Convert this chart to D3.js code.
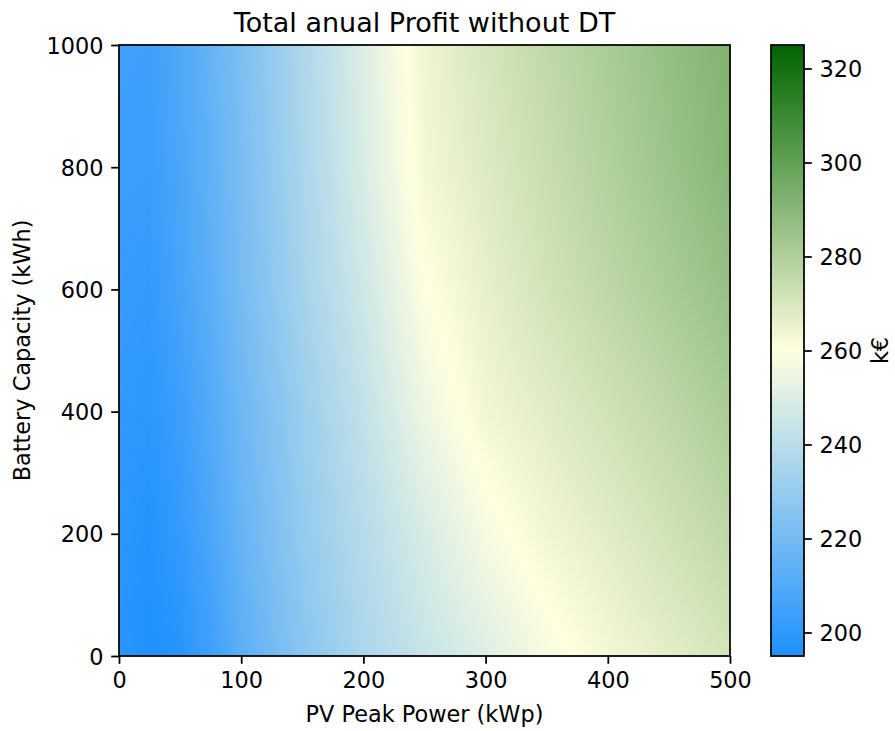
<!DOCTYPE html>
<html>
<head>
<meta charset="utf-8">
<script src="https://cdn.jsdelivr.net/npm/d3@7"></script>
<style>
  html, body { margin: 0; padding: 0; background: #fff; }
  svg text { font-family: "DejaVu Sans", sans-serif; fill: #000; }
</style>
</head>
<body>
<svg id="chart" width="895" height="731"></svg>
<script>
// PV peak power grid (kWp) — columns of the profit table
const pvPeak = [0, 25, 50, 75, 100, 150, 200, 250, 300, 350, 400, 450, 500];
// Battery capacity grid (kWh) — rows of the profit table
const battery = [0, 200, 400, 600, 800, 1000];
// Total annual profit (k€), one row per battery capacity
const profit0    = [198.0, 195.5, 197.5, 204.0, 213.0, 226.0, 236.0, 244.0, 250.5, 257.5, 263.0, 267.0, 271.0];
const profit200  = [199.0, 197.0, 201.0, 208.0, 216.0, 229.0, 239.0, 248.5, 257.5, 263.5, 267.5, 272.0, 276.5];
const profit400  = [200.5, 199.0, 203.5, 210.5, 218.0, 231.0, 242.5, 255.0, 263.5, 267.5, 272.0, 276.5, 281.5];
const profit600  = [202.0, 201.0, 206.5, 213.0, 220.5, 234.0, 246.0, 259.5, 266.0, 271.5, 276.5, 281.5, 286.5];
const profit800  = [203.5, 203.0, 208.0, 214.5, 221.5, 235.5, 249.0, 263.0, 268.5, 274.0, 279.5, 285.0, 290.5];
const profit1000 = [204.5, 204.0, 209.5, 215.5, 222.0, 236.5, 250.0, 264.0, 270.5, 276.0, 281.5, 287.0, 292.0];
const profitRows = [profit0, profit200, profit400, profit600, profit800, profit1000];

// Axis ticks
const xTicks = [0, 100, 200, 300, 400, 500];
const yTicks = [0, 200, 400, 600, 800, 1000];
const cTicks = [200, 220, 240, 260, 280, 300, 320];
const colorDomain = [195, 260, 325];
const colorRange = ["#1e90ff", "#ffffe0", "#006400"];

const svg = d3.select("#chart");
const plot = { left: 119, top: 45, right: 730, bottom: 656 };
const cbar = { left: 771, right: 804 };
const tickLen = 7.8, tickPad = 7.8, lw = 1.75, fs = 22.4;

const x = d3.scaleLinear().domain([0, 500]).range([plot.left, plot.right]);
const y = d3.scaleLinear().domain([0, 1000]).range([plot.bottom, plot.top]);
const color = d3.scaleLinear().domain(colorDomain).range(colorRange)
  .interpolate(d3.interpolateRgb).clamp(true);

// Bilinear lookup in the profit table
function profitAt(pv, bat) {
  let i = Math.min(Math.max(d3.bisectRight(pvPeak, pv) - 1, 0), pvPeak.length - 2);
  let j = Math.min(Math.max(d3.bisectRight(battery, bat) - 1, 0), battery.length - 2);
  const tx = Math.min(Math.max((pv - pvPeak[i]) / (pvPeak[i + 1] - pvPeak[i]), 0), 1);
  const ty = Math.min(Math.max((bat - battery[j]) / (battery[j + 1] - battery[j]), 0), 1);
  const a = profitRows[j][i], b = profitRows[j][i + 1];
  const c = profitRows[j + 1][i], d = profitRows[j + 1][i + 1];
  return (a * (1 - tx) + b * tx) * (1 - ty) + (c * (1 - tx) + d * tx) * ty;
}

// Heatmap raster
const pw = plot.right - plot.left, ph = plot.bottom - plot.top;
const canvas = document.createElement("canvas");
canvas.width = pw; canvas.height = ph;
const ctx = canvas.getContext("2d");
const img = ctx.createImageData(pw, ph);
const lut = d3.range(1301).map(k => d3.rgb(color(195 + k * 0.1)));
for (let r = 0; r < ph; r++) {
  const bat = y.invert(plot.top + r + 0.5);
  for (let c = 0; c < pw; c++) {
    const pv = x.invert(plot.left + c + 0.5);
    const v = profitAt(pv, bat);
    const k = Math.max(0, Math.min(1300, Math.round((v - 195) * 10)));
    const col = lut[k];
    const o = (r * pw + c) * 4;
    img.data[o] = col.r; img.data[o + 1] = col.g; img.data[o + 2] = col.b; img.data[o + 3] = 255;
  }
}
ctx.putImageData(img, 0, 0);
svg.append("image")
  .attr("x", plot.left).attr("y", plot.top)
  .attr("width", pw).attr("height", ph)
  .attr("preserveAspectRatio", "none")
  .attr("href", canvas.toDataURL());

// Axes
const fmt = d3.format("d");
const xAxis = svg.append("g").attr("transform", `translate(0,${plot.bottom})`)
  .call(d3.axisBottom(x).tickValues(xTicks).tickFormat(fmt).tickSize(tickLen).tickPadding(tickPad));
const yAxis = svg.append("g").attr("transform", `translate(${plot.left},0)`)
  .call(d3.axisLeft(y).tickValues(yTicks).tickFormat(fmt).tickSize(tickLen).tickPadding(tickPad));
[xAxis, yAxis].forEach(g => {
  g.select(".domain").remove();
  g.selectAll(".tick line").attr("stroke", "#000").attr("stroke-width", lw);
  g.selectAll(".tick text").attr("font-size", fs).attr("font-family", "DejaVu Sans").attr("fill", "#000");
});
yAxis.selectAll(".tick text").attr("dy", "0.36em");

svg.append("rect")
  .attr("x", plot.left).attr("y", plot.top).attr("width", pw).attr("height", ph)
  .attr("fill", "none").attr("stroke", "#000").attr("stroke-width", lw);

// Colorbar
const cScale = d3.scaleLinear().domain([colorDomain[0], colorDomain[2]]).range([plot.bottom, plot.top]);
const grad = svg.append("defs").append("linearGradient")
  .attr("id", "cbarGrad").attr("x1", 0).attr("y1", 1).attr("x2", 0).attr("y2", 0);
d3.range(0, 131, 5).forEach(k => {
  const v = colorDomain[0] + k;
  grad.append("stop").attr("offset", k / 130).attr("stop-color", color(v));
});
svg.append("rect")
  .attr("x", cbar.left).attr("y", plot.top)
  .attr("width", cbar.right - cbar.left).attr("height", ph)
  .attr("fill", "url(#cbarGrad)")
  .attr("stroke", "#000").attr("stroke-width", lw);
const cAxis = svg.append("g").attr("transform", `translate(${cbar.right},0)`)
  .call(d3.axisRight(cScale).tickValues(cTicks).tickFormat(fmt).tickSize(tickLen).tickPadding(tickPad));
cAxis.select(".domain").remove();
cAxis.selectAll(".tick line").attr("stroke", "#000").attr("stroke-width", lw);
cAxis.selectAll(".tick text").attr("font-size", fs).attr("font-family", "DejaVu Sans").attr("fill", "#000").attr("dy", "0.36em");

// Titles and labels
svg.append("text").attr("x", (plot.left + plot.right) / 2).attr("y", 32)
  .attr("text-anchor", "middle").attr("font-size", 27).text("Total anual Profit without DT");
svg.append("text").attr("x", (plot.left + plot.right) / 2).attr("y", 722)
  .attr("text-anchor", "middle").attr("font-size", fs).text("PV Peak Power (kWp)");
svg.append("text").attr("transform", `translate(30,${(plot.top + plot.bottom) / 2}) rotate(-90)`)
  .attr("text-anchor", "middle").attr("font-size", fs).text("Battery Capacity (kWh)");
svg.append("text").attr("transform", `translate(888,${(plot.top + plot.bottom) / 2}) rotate(-90)`)
  .attr("text-anchor", "middle").attr("font-size", fs).text("k€");
</script>
</body>
</html>
